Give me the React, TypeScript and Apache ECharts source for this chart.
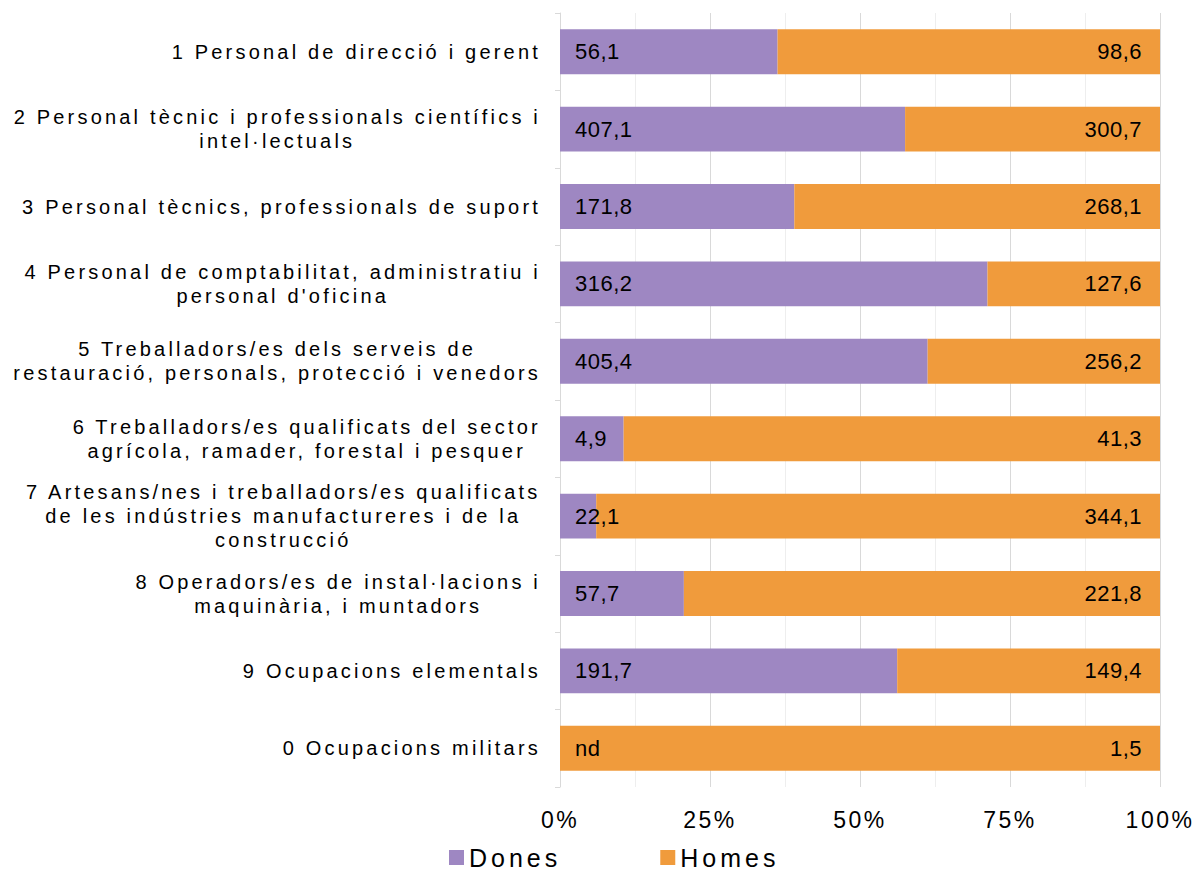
import React, { useEffect, useRef } from "react";
import * as echarts from "echarts";

const categories = [
  "1 Personal de direcció i gerent",
  "2 Personal tècnic i professionals científics i\nintel·lectuals",
  "3 Personal tècnics, professionals de suport",
  "4 Personal de comptabilitat, administratiu i\npersonal d'oficina",
  "5 Treballadors/es dels serveis de\nrestauració, personals, protecció i venedors",
  "6 Treballadors/es qualificats del sector\nagrícola, ramader, forestal i pesquer",
  "7 Artesans/nes i treballadors/es qualificats\nde les indústries manufactureres i de la\nconstrucció",
  "8 Operadors/es de instal·lacions i\nmaquinària, i muntadors",
  "9 Ocupacions elementals",
  "0 Ocupacions militars",
];

const dones: (number | null)[] = [56.1, 407.1, 171.8, 316.2, 405.4, 4.9, 22.1, 57.7, 191.7, null];
const homes: (number | null)[] = [98.6, 300.7, 268.1, 127.6, 256.2, 41.3, 344.1, 221.8, 149.4, 1.5];

const seriesNames = ["Dones", "Homes"];
const colors = ["#9E87C2", "#F09B3C"];

// letter-spacing markers (tenths of px) encoded in font family
const fam = (tenths: number) => `Liberation Sans, LSa${tenths}z`;

const ctx2d = document.createElement("canvas").getContext("2d") as CanvasRenderingContext2D;
function measure(text: string, font?: string) {
  const f = font || "12px sans-serif";
  ctx2d.font = f;
  const m = ctx2d.measureText(text);
  const mm = /LSa(\d+)z/.exec(f);
  const ls = mm ? Number(mm[1]) / 10 : 0;
  const n = Array.from(text || "").length;
  return {
    width: m.width + ls * n,
    actualBoundingBoxAscent: m.actualBoundingBoxAscent,
    actualBoundingBoxDescent: m.actualBoundingBoxDescent,
    actualBoundingBoxLeft: m.actualBoundingBoxLeft,
    actualBoundingBoxRight: m.actualBoundingBoxRight + ls * n,
    fontBoundingBoxAscent: (m as any).fontBoundingBoxAscent,
    fontBoundingBoxDescent: (m as any).fontBoundingBoxDescent,
  } as any;
}
if ((echarts as any).setPlatformAPI) {
  (echarts as any).setPlatformAPI({ measureText: measure });
}

const usedSpacings = [5, 10, 20, 25, 32, 38, 40];
const css =
  "body{margin:0;background:#fff;}" +
  usedSpacings
    .map(
      (t) =>
        `text[style*="LSa${t}z"],text[font-family*="LSa${t}z"],tspan[style*="LSa${t}z"]{letter-spacing:${t / 10}px;}`
    )
    .join("");

const fmtVal = (v: number | null) => (v == null ? "nd" : v.toFixed(1).replace(".", ","));

export default function App() {
  const ref = useRef<HTMLDivElement>(null);
  useEffect(() => {
    if (!ref.current) return;
    const chart = echarts.init(ref.current, null, { renderer: "svg" });
    const totals = categories.map((_, i) => (dones[i] || 0) + (homes[i] || 0));
    const raw = [dones, homes];
    const option: any = {
      animation: false,
      backgroundColor: "#ffffff",
      grid: { left: 560, right: 37, top: 13, bottom: 86, containLabel: false, outerBoundsMode: "none" },
      legend: {
        data: seriesNames,
        left: 444,
        top: 838,
        icon: "rect",
        itemWidth: 15,
        itemHeight: 15,
        itemGap: 99,
        textStyle: { fontSize: 25, fontFamily: fam(40), color: "#000", lineHeight: 28 },
        selectedMode: false,
      },
      xAxis: {
        type: "value",
        min: 0,
        max: 1,
        interval: 0.25,
        axisLine: { show: false },
        axisTick: { show: false },
        splitLine: { show: true, lineStyle: { color: "#D9D9D9", width: 1 } },
        minorTick: { show: false, splitNumber: 2 },
        minorSplitLine: { show: true, lineStyle: { color: "#EEEEEE", width: 1 } },
        axisLabel: {
          formatter: (v: number) => Math.round(v * 100) + "%",
          fontSize: 23,
          fontFamily: fam(25),
          color: "#000",
          margin: 20,
        },
      },
      yAxis: {
        type: "category",
        inverse: true,
        data: categories,
        axisLine: { show: true, lineStyle: { color: "#D9D9D9" } },
        axisTick: { show: true, length: 5, lineStyle: { color: "#D9D9D9" } },
        axisLabel: {
          interval: 0,
          margin: 19,
          fontSize: 20,
          fontFamily: fam(32),
          color: "#000",
          lineHeight: 24,
          formatter: (v: string) =>
            v
              .split("\n")
              .map((l) => `{c|${l}}`)
              .join("\n"),
          rich: {
            c: { align: "center", fontSize: 20, fontFamily: fam(32), color: "#000", lineHeight: 24 },
          },
        },
      },
      series: seriesNames.map((name, s) => ({
        name,
        type: "bar",
        stack: "total",
        barCategoryGap: "42%",
        itemStyle: { color: colors[s] },
        emphasis: { disabled: true },
        data: categories.map((_, i) => (totals[i] ? (raw[s][i] || 0) / totals[i] : 0)),
        label: {
          show: true,
          position: s === 0 ? "insideLeft" : "insideRight",
          distance: s === 0 ? 15 : 18,
          fontSize: 22,
          fontFamily: fam(5),
          color: "#000",
          formatter: (p: any) => fmtVal(raw[s][p.dataIndex]),
        },
      })),
    };
    chart.setOption(option);
    return () => chart.dispose();
  }, []);
  return (
    <>
      <style>{css}</style>
      <div ref={ref} style={{ position: "absolute", left: 0, top: 0, width: 1197, height: 873 }} />
    </>
  );
}
